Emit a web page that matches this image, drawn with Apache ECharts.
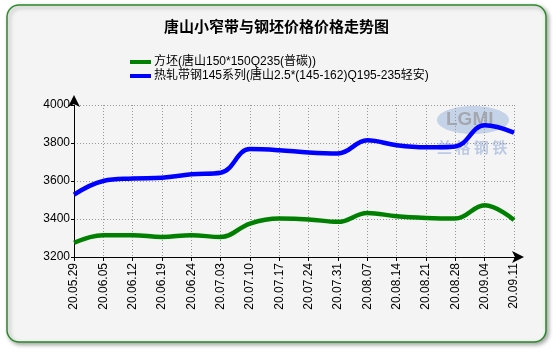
<!DOCTYPE html>
<html><head><meta charset="utf-8">
<script src="https://cdn.jsdelivr.net/npm/echarts@6/dist/echarts.min.js"></script>
<style>html,body{margin:0;padding:0;background:#fff;}#c{width:553px;height:352px;}</style>
</head><body><div id="c"></div>
<script>
var categories = ['20.05.29','20.06.05','20.06.12','20.06.19','20.06.24','20.07.03','20.07.10','20.07.17','20.07.24','20.07.31','20.08.07','20.08.14','20.08.21','20.08.28','20.09.04','20.09.11'];
var billetName = '方坯(唐山150*150Q235(普碳))';
var stripName = '热轧带钢145系列(唐山2.5*(145-162)Q195-235轻安)';
var billet = [3275,3315,3315,3305,3315,3305,3376,3402,3398,3385,3432,3414,3405,3402,3472,3395];
var strip = [3528,3600,3613,3617,3635,3643,3768,3762,3750,3745,3814,3788,3777,3782,3893,3855];
var yTicks = [3200,3400,3600,3800,4000];

var font = '"Liberation Sans","Noto Sans CJK SC",Arial,sans-serif';
var chart = echarts.init(document.getElementById('c'), null, {renderer:'canvas'});
chart.setOption({
  animation:false,
  backgroundColor:'#ffffff',
  graphic:[
    {type:'rect', z:-10, shape:{x:7,y:5,width:539,height:337,r:12},
     style:{fill:'#f4f4f4',stroke:'#2b8a2b',lineWidth:1.5,shadowBlur:4,shadowOffsetX:2,shadowOffsetY:2,shadowColor:'rgba(0,0,0,0.35)'}},
    {type:'ellipse', z:-6, shape:{cx:473,cy:120,rx:36,ry:14}, style:{fill:'rgba(110,150,210,0.35)'}},
    {type:'text', left:446, top:110, z:-5, style:{text:'LGMI',font:'bold 19px "Liberation Sans"',fill:'rgba(150,150,150,0.7)'}},
    {type:'text', left:437, top:140, z:-5, style:{text:'兰 格 钢 铁',font:'bold 15px "Noto Sans CJK SC"',fill:'rgba(120,150,210,0.45)'}}
  ],
  title:{text:'唐山小窄带与钢坯价格价格走势图',left:'center',top:15,
    textStyle:{fontSize:15,fontWeight:'bold',color:'#000',fontFamily:font}},
  legend:{orient:'vertical',left:125,top:51,itemGap:2,itemWidth:21,itemHeight:4,icon:'rect',
    textStyle:{fontSize:12,color:'#000',fontFamily:font,padding:[0,0,0,-2]},
    data:[billetName,stripName]},
  grid:{left:74,right:39,top:105,bottom:95,containLabel:false},
  xAxis:{type:'category',data:categories,boundaryGap:false,
    axisLine:{lineStyle:{color:'#000',width:1},symbol:['none','arrow'],symbolSize:[9,12],symbolOffset:[0,10]},
    axisTick:{show:true,alignWithLabel:true,length:4,lineStyle:{color:'#000'}},
    axisLabel:{rotate:90,interval:0,fontSize:12,color:'#000',fontFamily:font,margin:6},
    splitLine:{show:true,lineStyle:{color:'#999',type:[1,2],width:1}}},
  yAxis:{type:'value',min:yTicks[0],max:yTicks[yTicks.length-1],interval:200,
    axisLine:{show:true,lineStyle:{color:'#000',width:1},symbol:['none','arrow'],symbolSize:[9,12],symbolOffset:[0,10]},
    axisTick:{show:true,length:3,inside:false,lineStyle:{color:'#000'}},
    axisLabel:{fontSize:12,color:'#000',fontFamily:font,margin:4,formatter:function(v){return String(v);}},
    splitLine:{show:true,lineStyle:{color:'#999',type:[1,2],width:1}}},
  series:[
    {name:billetName,type:'line',data:billet,smooth:0.4,showSymbol:false,
     lineStyle:{color:'#008000',width:4.5},itemStyle:{color:'#008000'}},
    {name:stripName,type:'line',data:strip,smooth:0.4,showSymbol:false,
     lineStyle:{color:'#0000ff',width:4.5},itemStyle:{color:'#0000ff'}}
  ]
});
</script></body></html>
